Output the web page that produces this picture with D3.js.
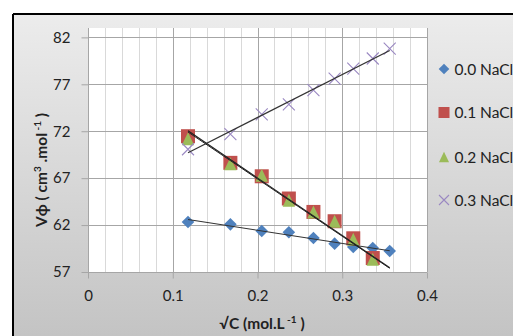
<!DOCTYPE html>
<html><head><meta charset="utf-8">
<script src="https://cdn.jsdelivr.net/npm/d3@7"></script>
<style>body{margin:0;background:#fff;}svg{display:block;font-family:Lato,"DejaVu Sans",sans-serif;}</style>
</head><body>
<script>
const seriesNames = ["0.0 NaCl", "0.1 NaCl", "0.2 NaCl", "0.3 NaCl"];
const sqrtC = [0.118, 0.168, 0.205, 0.237, 0.266, 0.291, 0.313, 0.336, 0.356];
const v00 = [62.33, 62.08, 61.37, 61.23, 60.63, 60.02, 59.67, 59.56, 59.24];
const v01 = [71.47, 68.63, 67.20, 64.83, 63.40, 62.41, 60.59, 58.49, 56.1];
const v02 = [71.20, 68.54, 67.30, 64.65, 63.40, 62.41, 60.48, 58.35, 56.0];
const v03 = [70.08, 71.68, 73.80, 74.85, 76.37, 77.60, 78.68, 79.75, 80.80];
const xTicks = [0, 0.1, 0.2, 0.3, 0.4];
const yTicks = [57, 62, 67, 72, 77, 82];
const colors = ["#4F81BD", "#C0504D", "#9BBB59", "#9A88C2"];
const markers = ["diamond", "square", "triangle", "cross"];

const W = 513, H = 336;
const svg = d3.select("body").append("svg").attr("width", W).attr("height", H);
const defs = svg.append("defs");
const grad = defs.append("linearGradient").attr("id", "bg").attr("x1", 0).attr("y1", 0).attr("x2", 0).attr("y2", 1);
grad.append("stop").attr("offset", "0%").attr("stop-color", "#ececec");
grad.append("stop").attr("offset", "100%").attr("stop-color", "#c2c2c2");

svg.append("rect").attr("x", 13).attr("y", 14).attr("width", W).attr("height", H).attr("fill", "url(#bg)");
svg.append("line").attr("x1", 13).attr("x2", W).attr("y1", 14).attr("y2", 14).attr("stroke", "#000").attr("stroke-width", 2);
svg.append("line").attr("x1", 13).attr("x2", 13).attr("y1", 14).attr("y2", H).attr("stroke", "#000").attr("stroke-width", 2);

const x = d3.scaleLinear().domain([0, 0.4]).range([88, 427]);
const y = d3.scaleLinear().domain([57, 83]).range([272, 28]);

svg.append("rect").attr("x", x(0)).attr("y", y(83)).attr("width", x(0.4) - x(0)).attr("height", y(57) - y(83)).attr("fill", "#fff");
defs.append("clipPath").attr("id", "clip").append("rect").attr("x", x(0)).attr("y", y(83)).attr("width", x(0.4) - x(0)).attr("height", y(57) - y(83));

// minor vertical grid
const minor = d3.range(0, 0.4001, 0.02).filter(v => Math.abs(v * 10 - Math.round(v * 10)) > 1e-6);
svg.append("g").selectAll("line").data(minor).join("line")
  .attr("x1", d => Math.round(x(d)) + 0.5).attr("x2", d => Math.round(x(d)) + 0.5)
  .attr("y1", y(83)).attr("y2", y(57)).attr("stroke", "#d9d9d9").attr("stroke-width", 1);
// major vertical grid
svg.append("g").selectAll("line").data(xTicks).join("line")
  .attr("x1", d => Math.round(x(d)) + 0.5).attr("x2", d => Math.round(x(d)) + 0.5)
  .attr("y1", y(83)).attr("y2", y(57)).attr("stroke", "#a6a6a6").attr("stroke-width", 1);
// horizontal grid
svg.append("g").selectAll("line").data(yTicks).join("line")
  .attr("x1", x(0)).attr("x2", x(0.4))
  .attr("y1", d => Math.round(y(d)) + 0.5).attr("y2", d => Math.round(y(d)) + 0.5)
  .attr("stroke", "#a6a6a6").attr("stroke-width", 1);

// axes
const xAxis = d3.axisBottom(x).tickValues(xTicks).tickFormat(d3.format("~g")).tickSize(6).tickPadding(12);
const gx = svg.append("g").attr("transform", `translate(0,${Math.round(y(57)) + 0.5})`).call(xAxis);
gx.select(".domain").attr("stroke", "#a6a6a6").attr("d", `M${x(0)},0H${x(0.4)}`);
gx.selectAll(".tick line").attr("stroke", "#a6a6a6");
gx.selectAll("text").attr("font-size", 15).attr("fill", "#222").attr("font-family", "Lato");

const yAxis = d3.axisLeft(y).tickValues(yTicks).tickSize(7).tickPadding(11);
const gy = svg.append("g").attr("transform", `translate(${Math.round(x(0)) + 0.5},0)`).call(yAxis);
gy.select(".domain").attr("stroke", "#a6a6a6").attr("d", `M0,${y(57)}V${y(83)}`);
gy.selectAll(".tick line").attr("stroke", "#a6a6a6");
gy.selectAll("text").attr("font-size", 15).attr("fill", "#222").attr("font-family", "Lato");

const allSeries = [v00, v01, v02, v03].map((vals, i) => ({
  name: seriesNames[i], color: colors[i], marker: markers[i],
  pts: vals.map((v, j) => ({ x: sqrtC[j], y: v }))
}));

function drawMarker(g, type, color, s) {
  if (type === "diamond") {
    g.append("path").attr("d", `M0,${-s}L${s},0L0,${s}L${-s},0Z`).attr("fill", color);
  } else if (type === "square") {
    g.append("rect").attr("x", -s).attr("y", -s).attr("width", 2 * s).attr("height", 2 * s).attr("fill", color);
  } else if (type === "triangle") {
    g.append("path").attr("d", `M0,${-s}L${s * 0.95},${s}L${-s * 0.95},${s}Z`).attr("fill", color);
  } else {
    g.append("path").attr("d", `M${-s},${-s}L${s},${s}M${s},${-s}L${-s},${s}`).attr("stroke", color).attr("stroke-width", 1.1).attr("fill", "none");
  }
}
const sizes = { diamond: 6.3, square: 7, triangle: 6.5, cross: 6 };

const plotG = svg.append("g").attr("clip-path", "url(#clip)");
allSeries.forEach(s => {
  s.pts.forEach(p => {
    const g = plotG.append("g").attr("transform", `translate(${x(p.x)},${y(p.y)})`);
    drawMarker(g, s.marker, s.color, sizes[s.marker]);
  });
});

// linear trendlines (least squares)
const trendW = [1.1, 1.2, 1.0, 1.2];
const trendC = ["#333", "#222", "#222", "#333"];
allSeries.forEach((s, i) => {
  const mx = d3.mean(s.pts, p => p.x), my = d3.mean(s.pts, p => p.y);
  const b = d3.sum(s.pts, p => (p.x - mx) * (p.y - my)) / d3.sum(s.pts, p => (p.x - mx) ** 2);
  const a = my - b * mx;
  const x0 = d3.min(s.pts, p => p.x), x1 = d3.max(s.pts, p => p.x);
  plotG.append("line").attr("x1", x(x0)).attr("y1", y(a + b * x0)).attr("x2", x(x1)).attr("y2", y(a + b * x1))
    .attr("stroke", trendC[i]).attr("stroke-width", trendW[i]);
});

// legend
const legY = [69, 112.5, 157, 200];
allSeries.forEach((s, i) => {
  const g = svg.append("g").attr("transform", `translate(444,${legY[i]})`);
  drawMarker(g, s.marker, s.color, s.marker === "cross" ? 5 : (s.marker === "square" ? 5.5 : 5.3));
  svg.append("text").attr("x", 454.5).attr("y", legY[i]).attr("dy", "0.36em")
    .attr("font-size", 15.5).attr("fill", "#222").text(s.name);
});

// axis titles
const xt = svg.append("text").attr("x", 262).attr("y", 329).attr("text-anchor", "middle")
  .attr("font-size", 15.5).attr("font-weight", "bold").attr("fill", "#222");
xt.append("tspan").text("√C (mol.L");
xt.append("tspan").attr("font-size", 10).attr("dy", -6).text(" -1");
xt.append("tspan").attr("dy", 6).text(" )");

const yt = svg.append("text").attr("transform", "translate(47,170) rotate(-90)").attr("text-anchor", "middle")
  .attr("font-size", 15.5).attr("font-weight", "bold").attr("fill", "#222");
yt.append("tspan").text("Vϕ ( cm");
yt.append("tspan").attr("font-size", 10).attr("dy", -6).text("3");
yt.append("tspan").attr("dy", 6).text(" .mol");
yt.append("tspan").attr("font-size", 10).attr("dy", -6).text(" -1");
yt.append("tspan").attr("dy", 6).text(" )");
</script>
</body></html>
